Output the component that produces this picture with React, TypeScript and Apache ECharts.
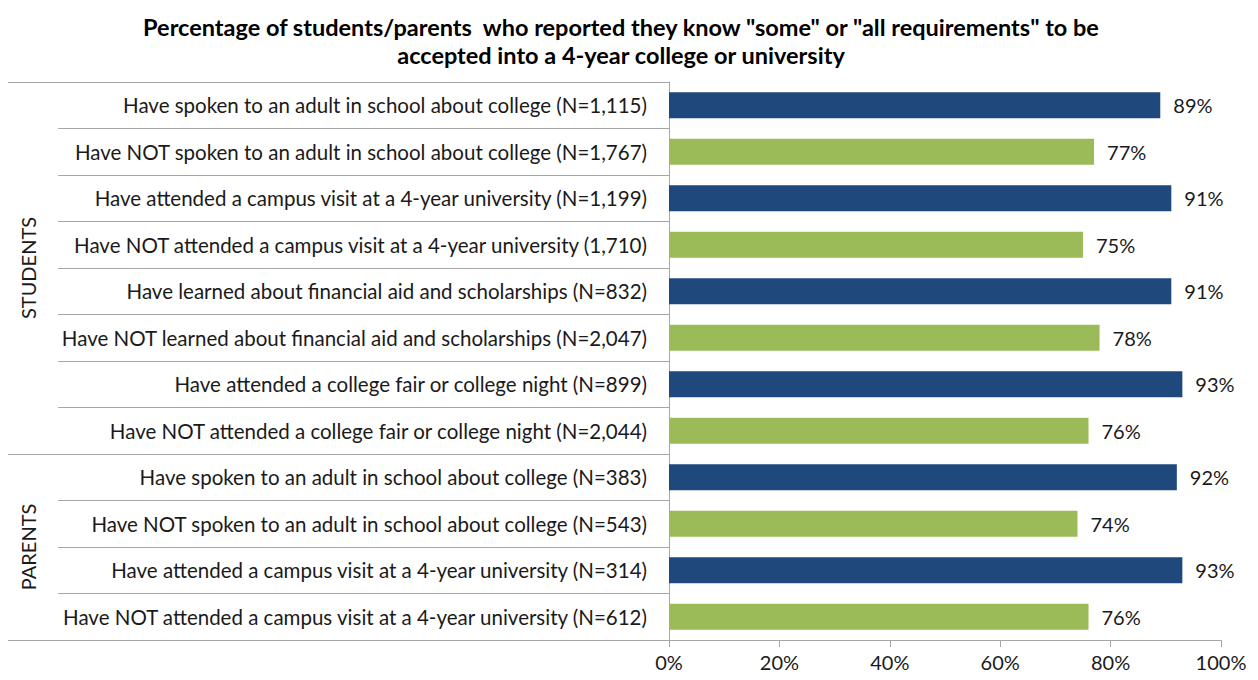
import React, { useEffect, useRef } from "react";
import * as echarts from "echarts";

const categories = [
  "Have spoken to an adult in school about college (N=1,115)",
  "Have NOT spoken to an adult in school about college (N=1,767)",
  "Have attended a campus visit at a 4-year university (N=1,199)",
  "Have NOT attended a campus visit at a 4-year university (1,710)",
  "Have learned about financial aid and scholarships (N=832)",
  "Have NOT learned about financial aid and scholarships (N=2,047)",
  "Have attended a college fair or college night (N=899)",
  "Have NOT attended a college fair or college night (N=2,044)",
  "Have spoken to an adult in school about college (N=383)",
  "Have NOT spoken to an adult in school about college (N=543)",
  "Have attended a campus visit at a 4-year university (N=314)",
  "Have NOT attended a campus visit at a 4-year university (N=612)",
];
const values = [89, 77, 91, 75, 91, 78, 93, 76, 92, 74, 93, 76];
const groups = [
  { name: "STUDENTS", start: 0, end: 8 },
  { name: "PARENTS", start: 8, end: 12 },
];
const xTicks = [0, 20, 40, 60, 80, 100];

const NAVY = "#1F497D";
const GREEN = "#9BBB59";
const LINE = "#A6A6A6";
const TEXT = "#1a1a1a";
const FONT = "Lato, 'Liberation Sans', sans-serif";

export default function App() {
  const ref = useRef<HTMLDivElement>(null);
  useEffect(() => {
    if (!ref.current) return;
    const chart = echarts.init(ref.current, null, { renderer: "svg" });
    const gridLeft = 669;
    const labelLeft = 58;
    const outerLeft = 8;
    chart.setOption({
      animation: false,
      title: {
        text: 'Percentage of students/parents  who reported they know "some" or "all requirements" to be\naccepted into a 4-year college or university',
        left: 616,
        textAlign: "center",
        top: 8,
        textStyle: { fontFamily: FONT, fontSize: 23.5, fontWeight: "bold", color: "#000", lineHeight: 28 },
      },
      grid: { left: gridLeft, right: 37, top: 82, bottom: 40, containLabel: false },
      xAxis: {
        type: "value",
        min: xTicks[0],
        max: xTicks[xTicks.length - 1],
        interval: 20,
        axisLine: { show: true, lineStyle: { color: LINE } },
        axisTick: { show: true, length: 7, lineStyle: { color: LINE } },
        splitLine: { show: false },
        axisLabel: { formatter: "{value}%", fontFamily: FONT, fontSize: 20, color: TEXT, margin: 12 },
      },
      yAxis: {
        type: "category",
        inverse: true,
        data: categories,
        axisLine: { show: true, lineStyle: { color: LINE } },
        axisTick: { show: true, length: gridLeft - labelLeft, lineStyle: { color: LINE } },
        axisLabel: { fontFamily: FONT, fontSize: 20.5, color: TEXT, margin: 22 },
      },
      series: [
        {
          type: "bar",
          barWidth: "56%",
          data: values.map((v, i) => ({ value: v, itemStyle: { color: i % 2 === 0 ? NAVY : GREEN } })),
          label: {
            show: true,
            position: "right",
            distance: 13,
            formatter: "{c}%",
            fontFamily: FONT,
            fontSize: 20,
            color: TEXT,
          },
        },
      ],
    });

    const graphics: any[] = [];
    const n = categories.length;
    const px = (i: number) => chart.convertToPixel({ yAxisIndex: 0 }, categories[i]) as number;
    const yOf = (idx: number) => {
      if (idx === 0) return px(0) - (px(1) - px(0)) / 2;
      if (idx === n) return px(n - 1) + (px(n - 1) - px(n - 2)) / 2;
      return (px(idx - 1) + px(idx)) / 2;
    };
    const bounds = new Set<number>();
    groups.forEach((g) => {
      bounds.add(g.start);
      bounds.add(g.end);
      const y0 = yOf(g.start);
      const y1 = yOf(g.end);
      graphics.push({
        type: "text",
        x: 28,
        y: (y0 + y1) / 2,
        rotation: Math.PI / 2,
        style: {
          text: g.name,
          fontFamily: FONT,
          fontSize: 20,
          fill: TEXT,
          align: "center",
          verticalAlign: "middle",
        },
      });
    });
    bounds.forEach((b) => {
      const y = Math.round(yOf(b)) + 0.5;
      graphics.push({
        type: "line",
        shape: { x1: outerLeft, y1: y, x2: gridLeft, y2: y },
        style: { stroke: LINE, lineWidth: 1 },
      });
    });
    chart.setOption({ graphic: graphics });

    return () => chart.dispose();
  }, []);
  return <div ref={ref} style={{ width: 1258, height: 680, position: "absolute", left: 0, top: 0 }} />;
}
